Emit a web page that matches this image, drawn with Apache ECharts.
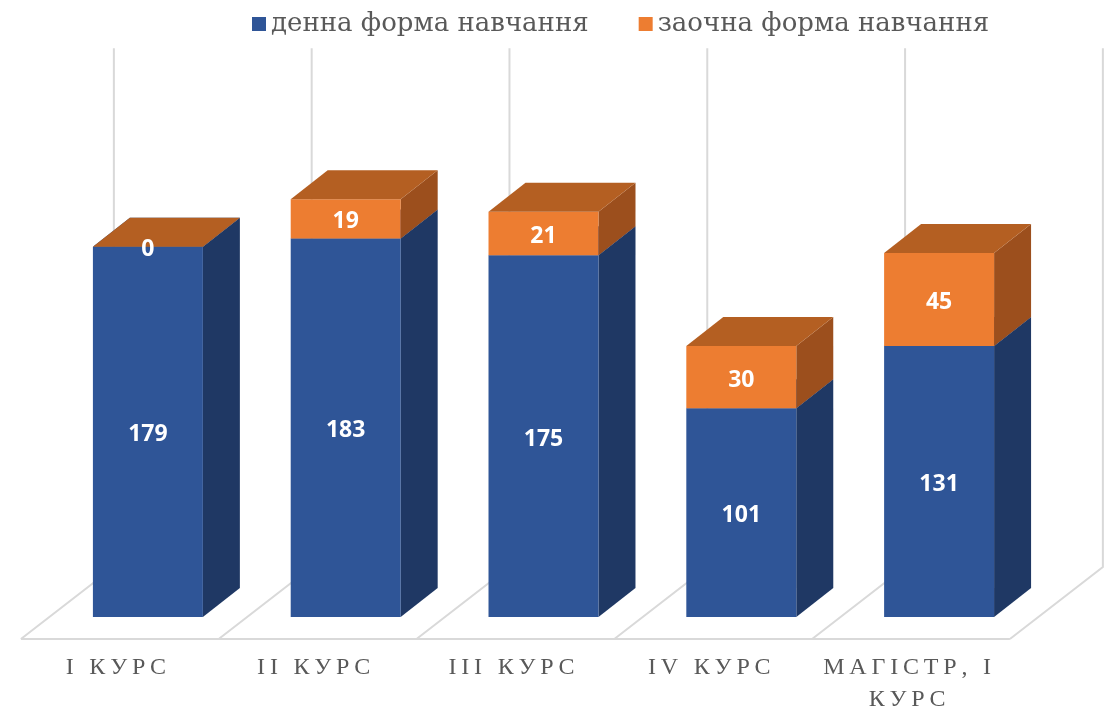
<!DOCTYPE html>
<html>
<head>
<meta charset="utf-8">
<script src="https://cdn.jsdelivr.net/npm/echarts@6/dist/echarts.min.js"></script>
<style>
  html, body { margin: 0; padding: 0; background: #fff; }
  #chart { width: 1114px; height: 714px; }
</style>
</head>
<body>
<div id="chart"></div>
<script>
// дані
const categories = ['I КУРС', 'II КУРС', 'III КУРС', 'IV КУРС', 'МАГІСТР, І\nКУРС'];
const seriesNames = ['денна форма навчання', 'заочна форма навчання'];
const fullTime = [179, 183, 175, 101, 131];
const partTime = [0, 19, 21, 30, 45];
const wallTop = 275;

const blue = { front: '#2f5597', side: '#1f3864', top: '#264a85' };
const orange = { front: '#ed7d31', side: '#9c4f1d', top: '#b45f22' };

// розрідження букв у підписах осі
function spaced(s) {
    return s.split('\n').map(line => line.split('').join('\u2009')).join('\n');
}

// 3D-коробка від v0 до v1
function box(api, idx, v0, v1, col, text) {
    const band = api.size([1, 0])[0];
    const w = band * 0.556;
    const dx = band * 0.187, dy = -dx * 0.784;
    const b = api.coord([idx, v0]);
    const t = api.coord([idx, v1]);
    const l = b[0] - w / 2, r = b[0] + w / 2, yb = b[1], yt = t[1];
    return {
        type: 'group',
        children: [
            { type: 'polygon', shape: { points: [[r, yb], [r + dx, yb + dy], [r + dx, yt + dy], [r, yt]] }, style: { fill: col.side } },
            { type: 'rect', shape: { x: l, y: yt, width: w, height: yb - yt }, style: { fill: col.front } },
            { type: 'polygon', shape: { points: [[l, yt], [l + dx, yt + dy], [r + dx, yt + dy], [r, yt]] }, style: { fill: col.top } },
            {
                type: 'text',
                style: {
                    x: b[0], y: (yb + yt) / 2 + 3, text: text, fill: '#fff',
                    font: 'bold 23px "Open Sans"', align: 'center', verticalAlign: 'middle'
                }
            }
        ]
    };
}

const chart = echarts.init(document.getElementById('chart'));

chart.setOption({
    animation: false,
    legend: {
        data: seriesNames,
        top: 6,
        left: 247,
        itemWidth: 14,
        itemHeight: 14,
        itemGap: 50,
        icon: 'rect',
        textStyle: { fontFamily: 'DejaVu Serif', fontSize: 26, color: '#595959' }
    },
    grid: { left: 49, right: 76, top: 38, bottom: 97, containLabel: false, outerBoundsMode: 'none' },
    xAxis: {
        type: 'category',
        data: categories,
        axisLine: { show: false },
        axisTick: { show: false },
        axisLabel: {
            interval: 0,
            margin: 35,
            padding: [0, 64, 0, 0],
            fontFamily: 'Liberation Serif',
            fontSize: 24,
            lineHeight: 32,
            color: '#595959',
            formatter: v => spaced(v)
        }
    },
    yAxis: { type: 'value', min: 0, max: 280, show: false, splitLine: { show: false } },
    series: [
        {
            // підлога та задня стінка
            type: 'custom',
            silent: true,
            z: 1,
            data: [0],
            renderItem: (params, api) => {
                const band = api.size([1, 0])[0];
                const children = [];
                const stroke = { stroke: '#d9d9d9', lineWidth: 2, fill: null };
                const bx = band * 0.47, by = -72;
                let first, last;
                for (let i = 0; i <= categories.length; i++) {
                    const c = api.coord([Math.min(i, categories.length - 1), 0]);
                    const cx = i < categories.length ? c[0] : c[0] + band;
                    const fx = cx - band * 0.5 - band * 0.142, fy = c[1] + 22;
                    const top = api.coord([0, wallTop])[1];
                    children.push({ type: 'polyline', shape: { points: [[fx, fy], [fx + bx, fy + by], [fx + bx, top]] }, style: stroke });
                    if (i === 0) first = [fx, fy];
                    last = [fx, fy];
                }
                children.push({ type: 'line', shape: { x1: first[0], y1: first[1], x2: last[0], y2: last[1] }, style: stroke });
                return { type: 'group', children };
            }
        },
        {
            name: seriesNames[0],
            type: 'custom',
            z: 2,
            itemStyle: { color: blue.front },
            data: fullTime.map((v, i) => [i, v]),
            renderItem: (params, api) => {
                const i = params.dataIndex;
                return box(api, i, 0, fullTime[i], blue, String(fullTime[i]));
            }
        },
        {
            name: seriesNames[1],
            type: 'custom',
            z: 3,
            itemStyle: { color: orange.front },
            data: partTime.map((v, i) => [i, v]),
            renderItem: (params, api) => {
                const i = params.dataIndex;
                return box(api, i, fullTime[i], fullTime[i] + partTime[i], orange, String(partTime[i]));
            }
        }
    ]
});
</script>
</body>
</html>
